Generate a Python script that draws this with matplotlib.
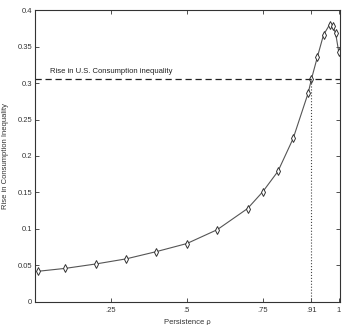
import matplotlib
matplotlib.use("Agg")
import matplotlib.pyplot as plt

plt.rcParams['font.family'] = ['Liberation Sans', 'DejaVu Sans']

rho = [0.01, 0.1, 0.2, 0.3, 0.4, 0.5, 0.6, 0.7, 0.75, 0.8, 0.85, 0.9, 0.91,
       0.93, 0.95, 0.97, 0.98, 0.99, 1.0]
rise = [0.042, 0.046, 0.052, 0.059, 0.069, 0.080, 0.099, 0.128, 0.151, 0.179,
        0.224, 0.287, 0.305, 0.336, 0.366, 0.380, 0.378, 0.368, 0.343]
us_rise = 0.305
rho_match = 0.91
xticks = [0.25, 0.5, 0.75, 0.91, 1.0]
xticklabels = ['.25', '.5', '.75', '.91', '1']
yticks = [0, 0.05, 0.1, 0.15, 0.2, 0.25, 0.3, 0.35, 0.4]
yticklabels = ['0', '0.05', '0.1', '0.15', '0.2', '0.25', '0.3', '0.35', '0.4']

fig = plt.figure(figsize=(3.43, 3.25), dpi=100)
ax = fig.add_axes([0.102, 0.071, 0.889, 0.898])

ax.plot(rho, rise, color='#555555', lw=0.8, marker='d', markersize=4,
        markerfacecolor='white', markeredgecolor='#333333', markeredgewidth=0.7)
ax.axhline(us_rise, color='#222222', lw=0.9, ls=(0, (5, 3)))
ax.plot([rho_match, rho_match], [0, us_rise], color='#444444', lw=0.8, ls=':')
ax.text(0.05, us_rise + 0.006, 'Rise in U.S. Consumption inequality',
        fontsize=5.5, color='#222222', va='bottom')

ax.set_xlim(0, 1.004)
ax.set_ylim(0, 0.4)
ax.set_xticks(xticks)
ax.set_xticklabels(xticklabels)
ax.set_yticks(yticks)
ax.set_yticklabels(yticklabels)
ax.tick_params(direction='in', top=True, right=True, labelsize=5.5,
               length=3, width=0.6, colors='#333333', pad=2)
ax.tick_params(axis='x', pad=4)
for s in ax.spines.values():
    s.set_linewidth(0.8)
    s.set_color('#333333')

ax.set_xlabel('Persistence ρ', fontsize=5.5, labelpad=3, color='#333333')
ax.set_ylabel('Rise in Consumption Inequality', fontsize=5.5, labelpad=6, color='#333333')

fig.savefig('out.png', dpi=100)
